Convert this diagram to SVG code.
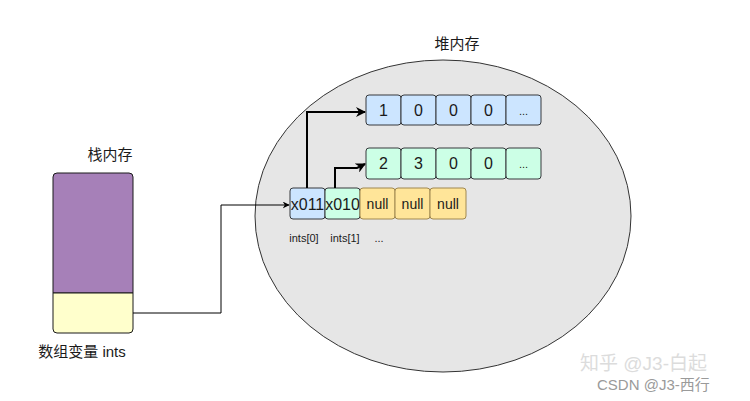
<svg xmlns="http://www.w3.org/2000/svg" width="750" height="401" viewBox="0 0 750 401">
<defs>
<style>
.t{font-family:"Liberation Sans","Noto Sans CJK SC",sans-serif;fill:#1a1a1a}
.cell{font-size:16px;text-anchor:middle}
.b{fill:#cce5ff;stroke:#36393d;stroke-width:1}
.g{fill:#ccffe6;stroke:#36393d;stroke-width:1}
.y{fill:#ffe599;stroke:#a08850;stroke-width:1}
.c{fill:none;stroke:#000;stroke-width:1}
.c2{fill:none;stroke:#000;stroke-width:2}
</style>
<marker id="ah" viewBox="0 0 10 10" refX="9" refY="5" markerWidth="7" markerHeight="7" markerUnits="userSpaceOnUse" orient="auto"><path d="M0,0 L10,5 L0,10 L3,5 Z" fill="#000"/></marker>
<marker id="ah2" viewBox="0 0 10 10" refX="9" refY="5" markerWidth="5" markerHeight="5" orient="auto"><path d="M0,0 L10,5 L0,10 L3,5 Z" fill="#000"/></marker>
</defs>
<rect width="750" height="401" fill="#fff"/>
<g id="heap">
<ellipse cx="443" cy="216" rx="188" ry="156" fill="#e6e6e6" stroke="#333" stroke-width="1"/>
<text class="t" x="457" y="49" font-size="15" text-anchor="middle">堆内存</text>
</g>
<g id="stack">
<path d="M57,173 H129 a4,4 0 0 1 4,4 V293 H53 V177 a4,4 0 0 1 4,-4 Z" fill="#a680b8" stroke="#1a1a1a"/>
<path d="M53,293 H133 V329 a4,4 0 0 1 -4,4 H57 a4,4 0 0 1 -4,-4 Z" fill="#ffffcc" stroke="#1a1a1a"/>
<text class="t" x="110" y="160" font-size="15" text-anchor="middle">栈内存</text>
<text class="t" x="82" y="357" font-size="15" text-anchor="middle">数组变量 ints</text>
</g>
<g id="row1">
<rect class="b" x="366" y="95" width="35" height="30" rx="3"/><text class="t cell" x="383.5" y="116">1</text>
<rect class="b" x="401" y="95" width="35" height="30" rx="3"/><text class="t cell" x="418.5" y="116">0</text>
<rect class="b" x="436" y="95" width="35" height="30" rx="3"/><text class="t cell" x="453.5" y="116">0</text>
<rect class="b" x="471" y="95" width="35" height="30" rx="3"/><text class="t cell" x="488.5" y="116">0</text>
<rect class="b" x="506" y="95" width="35" height="30" rx="3"/><text class="t" x="523.5" y="115" font-size="11" text-anchor="middle">...</text>
</g>
<g id="row2">
<rect class="g" x="366" y="148" width="35" height="31" rx="3"/><text class="t cell" x="383.5" y="169">2</text>
<rect class="g" x="401" y="148" width="35" height="31" rx="3"/><text class="t cell" x="418.5" y="169">3</text>
<rect class="g" x="436" y="148" width="35" height="31" rx="3"/><text class="t cell" x="453.5" y="169">0</text>
<rect class="g" x="471" y="148" width="35" height="31" rx="3"/><text class="t cell" x="488.5" y="169">0</text>
<rect class="g" x="506" y="148" width="35" height="31" rx="3"/><text class="t" x="523.5" y="168" font-size="11" text-anchor="middle">...</text>
</g>
<g id="array">
<rect class="b" x="290" y="188" width="35" height="31" rx="3"/><text class="t cell" x="307.5" y="210">x011</text>
<rect class="g" x="325" y="188" width="35" height="31" rx="3"/><text class="t cell" x="342.5" y="210">x010</text>
<rect class="y" x="360" y="188" width="35" height="31" rx="3"/><text class="t" x="377.5" y="209" font-size="14" text-anchor="middle">null</text>
<rect class="y" x="395" y="188" width="35" height="31" rx="3"/><text class="t" x="412.5" y="209" font-size="14" text-anchor="middle">null</text>
<rect class="y" x="430" y="188" width="36" height="31" rx="3"/><text class="t" x="448" y="209" font-size="14" text-anchor="middle">null</text>
<text class="t" x="304" y="242" font-size="11" text-anchor="middle">ints[0]</text>
<text class="t" x="345" y="242" font-size="11" text-anchor="middle">ints[1]</text>
<text class="t" x="379" y="242" font-size="11" text-anchor="middle">...</text>
</g>
<g id="connectors">
<path class="c" d="M133,313 H221 V205 H289" marker-end="url(#ah)"/>
<path class="c2" d="M307,188 V112 H365" marker-end="url(#ah2)"/>
<path class="c2" d="M335,188 V168 H357 L365,164" marker-end="url(#ah2)"/>
</g>
<g id="watermark" font-family="'Liberation Sans','Noto Sans CJK SC',sans-serif">
<text x="580" y="370" font-size="19" fill="#dcdcdc">知乎 @J3-白起</text>
<text x="597" y="390" font-size="15" fill="#9a9a9a">CSDN @J3-西行</text>
</g>
</svg>
